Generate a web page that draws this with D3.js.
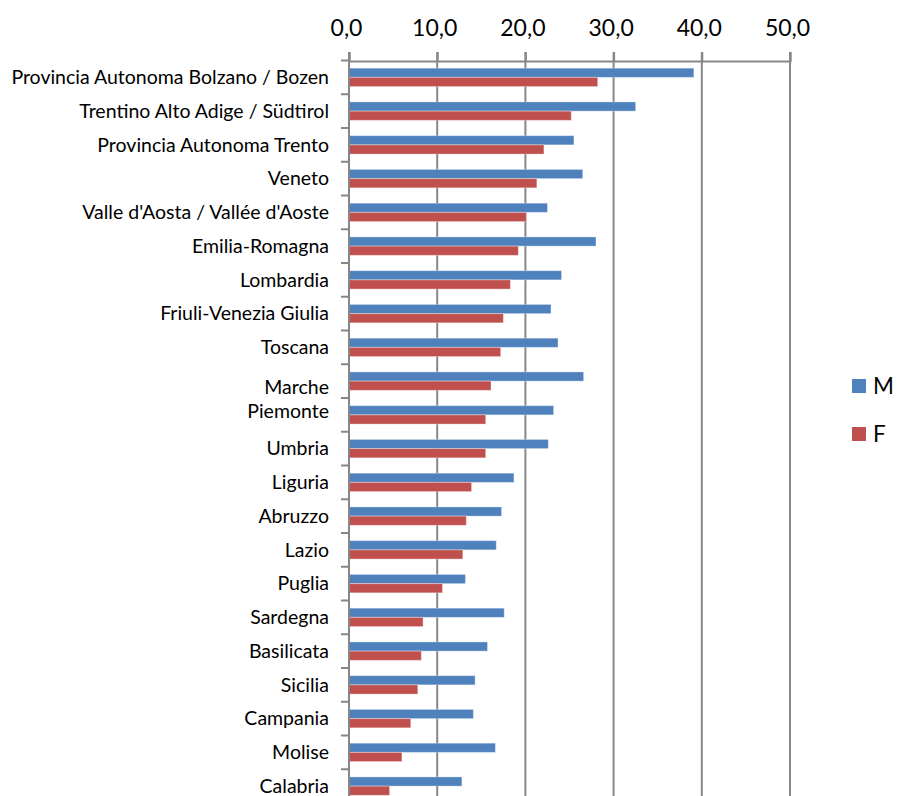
<!DOCTYPE html>
<html>
<head>
<meta charset="utf-8">
<script src="https://cdn.jsdelivr.net/npm/d3@7"></script>
<style>
  html, body { margin: 0; padding: 0; background: #fff; }
  svg { display: block; }
  text { font-family: Lato, "Open Sans", sans-serif; fill: #000; }
</style>
</head>
<body>
<div id="chart"></div>
<script>
// Regions, in display order (top to bottom)
const regions = [
  "Provincia Autonoma Bolzano / Bozen",
  "Trentino Alto Adige / Südtirol",
  "Provincia Autonoma Trento",
  "Veneto",
  "Valle d'Aosta / Vallée d'Aoste",
  "Emilia-Romagna",
  "Lombardia",
  "Friuli-Venezia Giulia",
  "Toscana",
  "Marche",
  "Piemonte",
  "Umbria",
  "Liguria",
  "Abruzzo",
  "Lazio",
  "Puglia",
  "Sardegna",
  "Basilicata",
  "Sicilia",
  "Campania",
  "Molise",
  "Calabria"
];

// Values per region, males
const valuesM = [39.1, 32.5, 25.5, 26.5, 22.5, 28.0, 24.1, 22.9, 23.7, 26.6, 23.2,
                 22.6, 18.7, 17.3, 16.7, 13.2, 17.6, 15.7, 14.3, 14.1, 16.6, 12.8];
// Values per region, females
const valuesF = [28.2, 25.2, 22.1, 21.3, 20.1, 19.2, 18.3, 17.5, 17.2, 16.1, 15.5,
                 15.5, 13.9, 13.3, 12.9, 10.6, 8.4, 8.2, 7.8, 7.0, 6.0, 4.6];

const seriesNames = ["M", "F"];
const seriesColors = ["#4F81BD", "#C0504D"];
const xTicks = [0, 10, 20, 30, 40, 50];

const W = 897, H = 796;
const svg = d3.select("#chart").append("svg")
  .attr("width", W).attr("height", H);

const x = d3.scaleLinear().domain([0, 50]).range([349, 790]);
const y = d3.scaleBand().domain(regions).range([60.5, 803]).padding(0);
const ySub = d3.scaleBand().domain(seriesNames).range([0, y.bandwidth()])
  .paddingInner(0).paddingOuter(0.834);

const gridColor = "#878787";
const fmt = v => d3.format(".1f")(v).replace(".", ",");

// vertical gridlines, extending slightly above the axis as tick marks
svg.append("g").selectAll("line").data(xTicks.slice(1)).join("line")
  .attr("x1", d => x(d)).attr("x2", d => x(d))
  .attr("y1", 52).attr("y2", H)
  .attr("stroke", gridColor).attr("stroke-width", 2);

// top value axis
const xAxis = svg.append("g").attr("transform", "translate(0,61)")
  .call(d3.axisTop(x).tickValues(xTicks).tickFormat(fmt).tickSize(9).tickPadding(16));
xAxis.select(".domain").attr("stroke", gridColor).attr("stroke-width", 2);
xAxis.selectAll(".tick line").attr("stroke", gridColor).attr("stroke-width", 2);
xAxis.selectAll(".tick text")
  .attr("font-size", 23).attr("dx", -3)
  .style("font-family", "Lato, 'Open Sans', sans-serif");

// bars
const groups = svg.append("g").selectAll("g").data(regions).join("g")
  .attr("transform", d => `translate(0,${y(d)})`);
groups.selectAll("rect")
  .data((d, i) => [
    { s: "M", v: valuesM[i] },
    { s: "F", v: valuesF[i] }
  ])
  .join("rect")
  .attr("x", x(0))
  .attr("y", d => ySub(d.s))
  .attr("width", d => x(d.v) - x(0))
  .attr("height", ySub.bandwidth())
  .attr("fill", d => seriesColors[seriesNames.indexOf(d.s)])
  .attr("stroke", "rgba(255,255,255,0.35)")
  .attr("stroke-width", 1);

// category axis on the left, ticks at band boundaries
const yAxisG = svg.append("g");
yAxisG.append("line")
  .attr("x1", x(0)).attr("x2", x(0))
  .attr("y1", 52).attr("y2", H)
  .attr("stroke", gridColor).attr("stroke-width", 2);
yAxisG.selectAll("line.bt").data(regions).join("line").attr("class", "bt")
  .attr("x1", x(0) - 8).attr("x2", x(0))
  .attr("y1", d => y(d)).attr("y2", d => y(d))
  .attr("stroke", gridColor).attr("stroke-width", 2);

// the two labels around the Marche/Piemonte boundary sit slightly pushed together
const labelNudge = { "Marche": 6, "Piemonte": -3.5 };
yAxisG.selectAll("text").data(regions).join("text")
  .attr("x", x(0) - 20)
  .attr("y", d => y(d) + y.bandwidth() / 2 + (labelNudge[d] || 0))
  .attr("dy", "0.35em")
  .attr("text-anchor", "end")
  .attr("font-size", 19.5)
  .text(d => d);

// legend
const legend = svg.append("g");
seriesNames.forEach((s, i) => {
  const g = legend.append("g").attr("transform", `translate(852,${379 + i * 48})`);
  g.append("rect").attr("width", 14).attr("height", 14).attr("fill", seriesColors[i]);
  g.append("text").attr("x", 21).attr("y", 7).attr("dy", "0.36em")
    .attr("font-size", 22.5).text(s);
});
</script>
</body>
</html>
